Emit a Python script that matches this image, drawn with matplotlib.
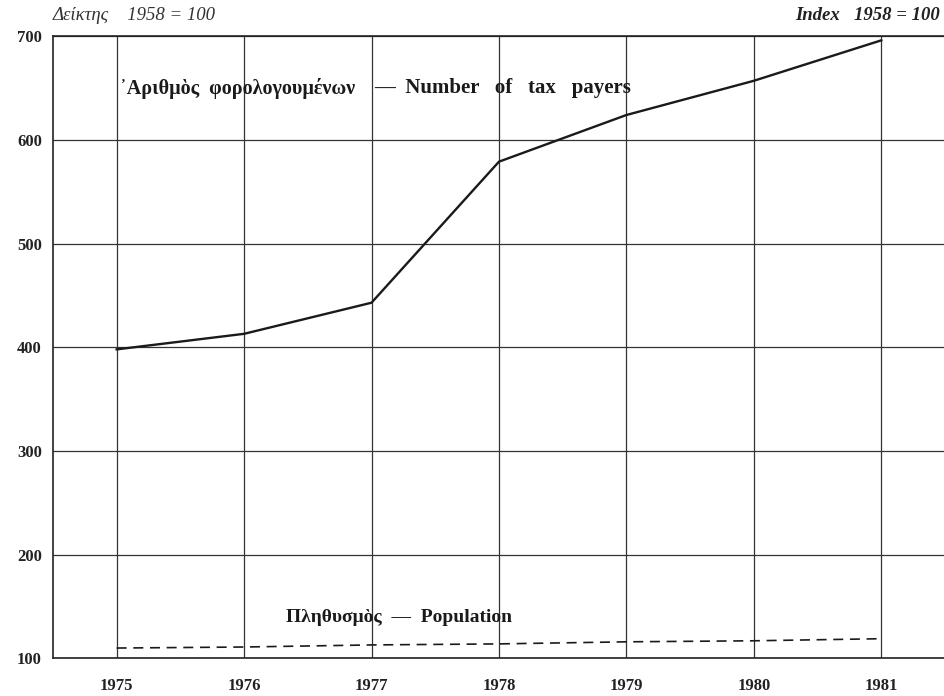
import matplotlib
matplotlib.use('Agg')
from matplotlib import pyplot as plt

# Data (index 1958 = 100).
years = [1975, 1976, 1977, 1978, 1979, 1980, 1981]
tax_payers = [398, 413, 443, 579, 624, 657, 696]
population = [110, 111, 113, 114, 116, 117, 119]
y_ticks = [100, 200, 300, 400, 500, 600, 700]

serif = ['Liberation Serif', 'DejaVu Serif']
plt.rcParams['font.family'] = serif

fig = plt.figure(figsize=(9.45, 6.96), dpi=100)
ax = fig.add_axes([0.056, 0.054, 0.944, 0.894])

ax.plot(years, tax_payers, color='#1a1a1a', lw=1.7)
ax.plot(years, population, color='#1a1a1a', lw=1.2, ls=(0, (6, 4)))

# Format plot.
ax.set_xlim(1974.5, 1981.5)
ax.set_ylim(100, 700)
ax.set_xticks(years)
ax.set_yticks(y_ticks)
ax.grid(True, color='#333333', lw=0.9)
ax.set_axisbelow(True)
ax.tick_params(length=0, labelsize=12, colors='#222222', pad=8)
for lbl in ax.get_xticklabels() + ax.get_yticklabels():
    lbl.set_fontweight('bold')
ax.tick_params(axis='x', pad=14)
for side in ['left', 'bottom', 'top']:
    ax.spines[side].set_linewidth(1.2)
    ax.spines[side].set_color('#222222')
ax.spines['right'].set_visible(False)

fig.text(0.056, 0.978, 'Δείκτης    1958 = 100', style='italic', fontsize=13.5,
         ha='left', va='center', color='#333333')
fig.text(0.995, 0.978, 'Index   1958 = 100', style='italic', fontweight='bold',
         fontsize=13.5, ha='right', va='center', color='#222222')

# Series labels (Greek and English parts placed like the printed original).
ax.text(1975.03, 650, '᾿Αριθμὸς  φορολογουμένων', fontsize=14.5,
        fontweight='bold', ha='left', va='center', color='#1a1a1a')
ax.text(1977.02, 650, '—  Number   of   tax   payers', fontsize=15,
        fontweight='bold', ha='left', va='center', color='#1a1a1a')
ax.text(1976.33, 139, 'Πληθυσμὸς  —  Population', fontsize=14,
        fontweight='bold', ha='left', va='center', color='#1a1a1a')

fig.savefig('out.png', dpi=100, facecolor='white')
